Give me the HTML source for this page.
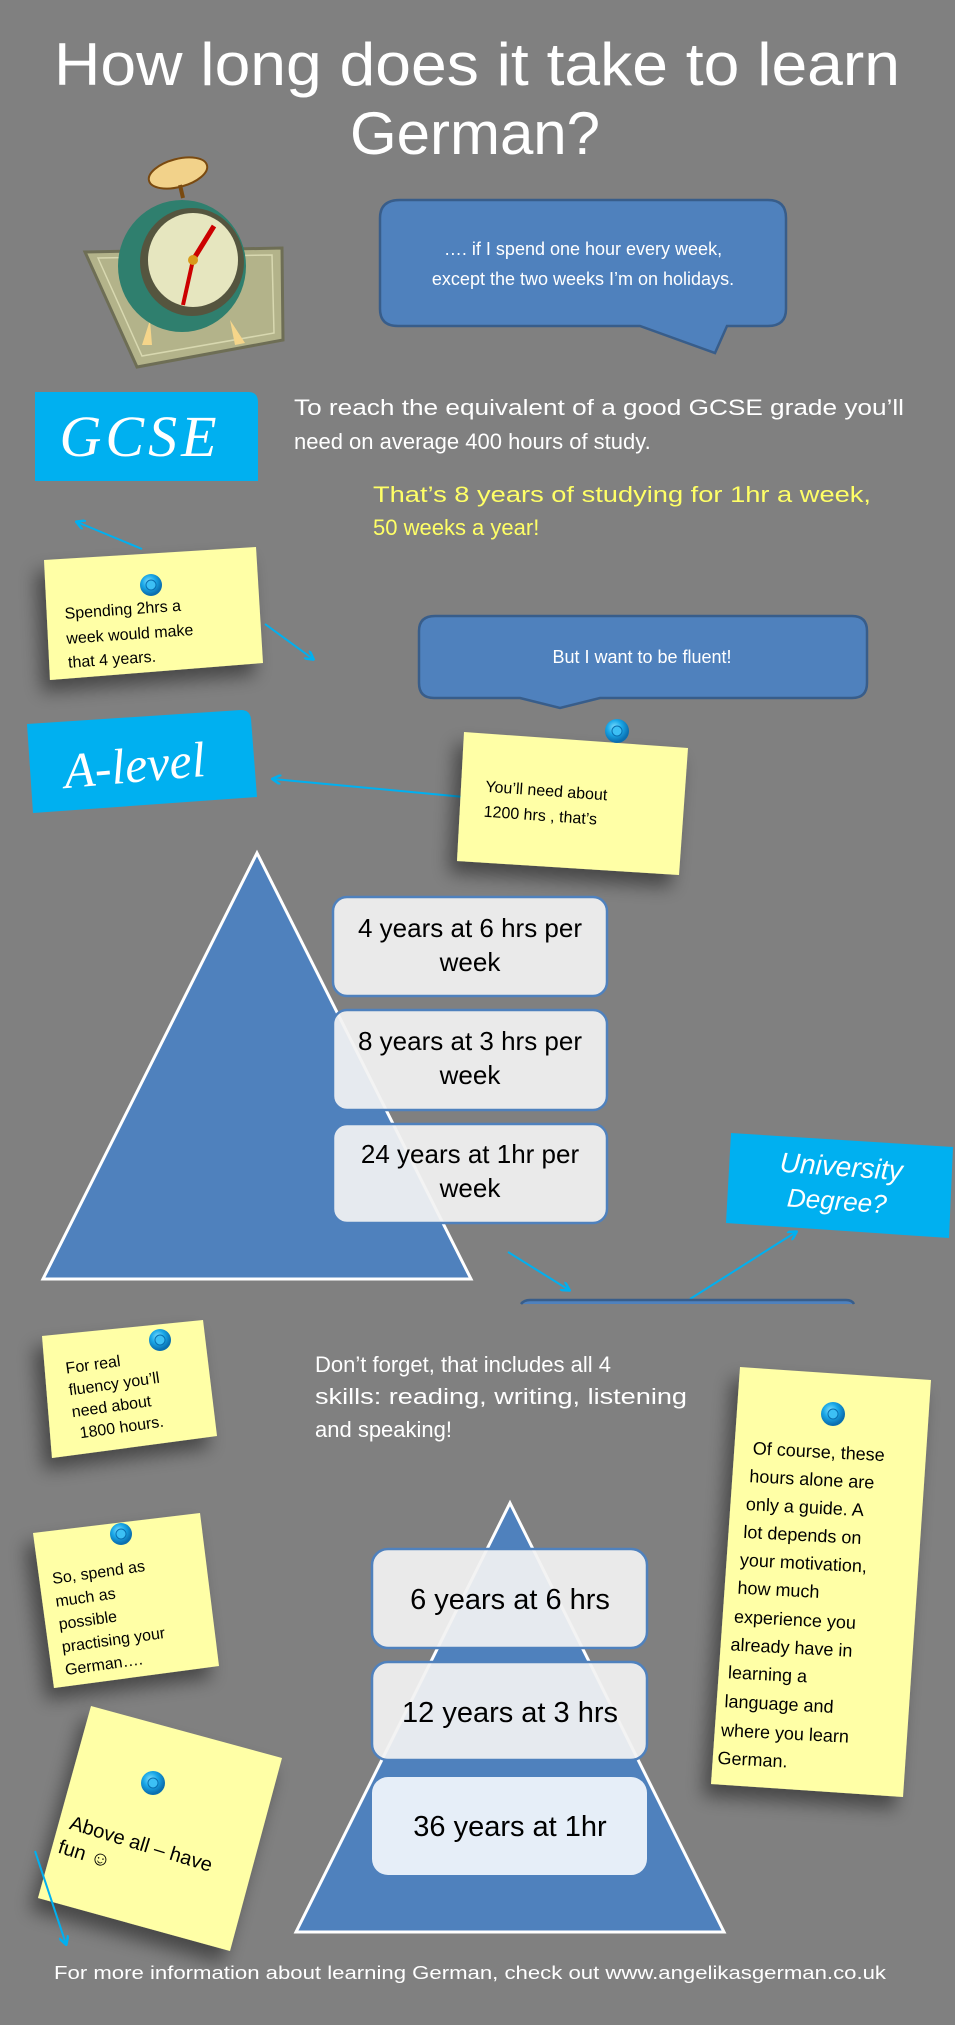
<!DOCTYPE html>
<html><head><meta charset="utf-8"><style>
html,body{margin:0;padding:0;background:#808080;}
svg{display:block;}
text{font-family:"Liberation Sans",sans-serif;}
.hw{font-family:"Liberation Serif",serif;font-style:italic;}
</style></head><body>
<svg width="955" height="2025" viewBox="0 0 955 2025" xmlns="http://www.w3.org/2000/svg">
<defs>
<filter id="sh" x="-30%" y="-30%" width="170%" height="170%"><feGaussianBlur in="SourceAlpha" stdDeviation="9"/><feOffset dx="-8" dy="12"/><feComponentTransfer><feFuncA type="linear" slope="0.45"/></feComponentTransfer><feMerge><feMergeNode/><feMergeNode in="SourceGraphic"/></feMerge></filter>
<radialGradient id="pin" cx="40%" cy="35%" r="60%"><stop offset="0" stop-color="#7fdfff"/><stop offset="0.5" stop-color="#1aa8e8"/><stop offset="1" stop-color="#0a6fb0"/></radialGradient>
<marker id="ah" markerWidth="10" markerHeight="10" refX="8" refY="5" orient="auto" markerUnits="userSpaceOnUse"><path d="M0,0 L9,5 L0,10" fill="none" stroke="#00b0f0" stroke-width="2.5"/></marker>
</defs>
<rect width="955" height="2025" fill="#808080"/>

<!-- Title -->
<text x="477" y="85" font-size="60" fill="#fff" text-anchor="middle" textLength="846" lengthAdjust="spacingAndGlyphs">How long does it take to learn</text>
<text x="475" y="154" font-size="60" fill="#fff" text-anchor="middle">German?</text>

<!-- Clock -->
<g>
<polygon points="85,252 282,248 283,340 137,367" fill="#b3b38a" stroke="#6e6e55" stroke-width="3"/>
<polygon points="98,258 272,255 274,333 142,356" fill="none" stroke="#d8d8b0" stroke-width="1.5"/>
<path d="M150,320 L142,345 L152,345 Z M230,320 L245,343 L235,345 Z" fill="#f5d58a"/>
<ellipse cx="182" cy="266" rx="64" ry="66" fill="#2f7f6e"/>
<ellipse cx="192" cy="262" rx="52" ry="54" fill="#55553f"/>
<ellipse cx="193" cy="260" rx="45" ry="47" fill="#e6e6bf"/>
<line x1="193" y1="260" x2="214" y2="226" stroke="#c00" stroke-width="5"/>
<line x1="193" y1="260" x2="183" y2="305" stroke="#c00" stroke-width="4"/>
<circle cx="193" cy="260" r="5" fill="#d99a1a"/>
<ellipse cx="178" cy="173" rx="30" ry="14" fill="#f2d28a" stroke="#7a4a10" stroke-width="2" transform="rotate(-15 178 173)"/>
<line x1="180" y1="185" x2="183" y2="198" stroke="#7a4a10" stroke-width="4"/>
</g>

<!-- Bubble 1 -->
<path d="M400,200 H768 Q786,200 786,218 V309 Q786,326 768,326 H727 L715,353 L640,326 H398 Q380,326 380,309 V218 Q380,200 400,200 Z" fill="#4f81bd" stroke="#385d8a" stroke-width="2.5"/>
<text x="583" y="255" font-size="18" fill="#fff" text-anchor="middle">…. if I spend one hour every week,</text>
<text x="583" y="285" font-size="18" fill="#fff" text-anchor="middle">except the two weeks I’m on holidays.</text>

<!-- GCSE -->
<path d="M35,392 H248 Q258,392 258,402 V481 H35 Z" fill="#00b0f0"/>
<text x="140" y="456" font-size="58" fill="#fff" text-anchor="middle" class="hw" letter-spacing="4">GCSE</text>

<text x="294" y="415" font-size="22" fill="#fff" textLength="610" lengthAdjust="spacingAndGlyphs">To reach the equivalent of a good GCSE grade you’ll</text>
<text x="294" y="449" font-size="22" fill="#fff">need on average 400 hours of study.</text>
<text x="373" y="502" font-size="22" fill="#ffff66" textLength="498" lengthAdjust="spacingAndGlyphs">That’s  8 years of studying for 1hr a week,</text>
<text x="373" y="535" font-size="22" fill="#ffff66">50 weeks a year!</text>

<!-- Note 1 -->
<g filter="url(#sh)"><polygon points="44,560 256,547 263,663 50,680" fill="#ffffa6"/></g>
<circle cx="151" cy="585" r="11" fill="url(#pin)"/><circle cx="151" cy="585" r="5" fill="#3cc0f5" stroke="#0a6fb0"/>
<g transform="rotate(-4 150 630)" font-size="16" fill="#000">
<text x="66" y="613">Spending 2hrs  a</text>
<text x="66" y="638">week would make</text>
<text x="66" y="662">that 4 years.</text>
</g>
<line x1="142" y1="549" x2="77" y2="522" stroke="#00b0f0" stroke-width="2" marker-end="url(#ah)"/>
<line x1="265" y1="624" x2="313" y2="659" stroke="#00b0f0" stroke-width="2" marker-end="url(#ah)"/>

<!-- Bubble 2 -->
<path d="M435,616 H852 Q867,616 867,631 V683 Q867,698 852,698 H600 L560,708 L520,698 H434 Q419,698 419,683 V631 Q419,616 435,616 Z" fill="#4f81bd" stroke="#385d8a" stroke-width="2.5"/>
<text x="642" y="663" font-size="18" fill="#fff" text-anchor="middle">But I want to be fluent!</text>

<!-- A-level -->
<path d="M27,724 L241,710 Q250,710 251,719 L257,797 L33,813 Z" fill="#00b0f0"/>
<text x="135" y="782" font-size="50" fill="#fff" text-anchor="middle" class="hw" transform="rotate(-5 135 770)">A-level</text>
<line x1="464" y1="797" x2="273" y2="779" stroke="#00b0f0" stroke-width="2" marker-end="url(#ah)"/>

<!-- Note 2 -->
<g filter="url(#sh)"><polygon points="464,732 688,748 679,875 457,861" fill="#ffffa6"/></g>
<circle cx="617" cy="731" r="12" fill="url(#pin)"/><circle cx="617" cy="731" r="5" fill="#3cc0f5" stroke="#0a6fb0"/>
<g transform="rotate(4 560 810)" font-size="16" fill="#000">
<text x="484" y="797">You’ll need about</text>
<text x="484" y="822">1200 hrs , that’s</text>
</g>

<!-- Triangle 1 -->
<polygon points="257,853 471,1279 43,1279" fill="#4f81bd" stroke="#fff" stroke-width="3"/>
<g font-size="26" fill="#000" text-anchor="middle">
<rect x="333" y="897" width="274" height="99" rx="14" fill="#f2f2f2" fill-opacity="0.93" stroke="#4f81bd" stroke-width="2.5"/>
<text x="470" y="937">4 years at 6 hrs per</text><text x="470" y="971">week</text>
<rect x="333" y="1010" width="274" height="100" rx="14" fill="#f2f2f2" fill-opacity="0.93" stroke="#4f81bd" stroke-width="2.5"/>
<text x="470" y="1050">8 years at 3 hrs per</text><text x="470" y="1084">week</text>
<rect x="333" y="1124" width="274" height="99" rx="14" fill="#f2f2f2" fill-opacity="0.93" stroke="#4f81bd" stroke-width="2.5"/>
<text x="470" y="1163">24 years at 1hr per</text><text x="470" y="1197">week</text>
</g>

<!-- University -->
<polygon points="731,1133 953,1147 949,1238 726,1223" fill="#00b0f0"/>
<g transform="rotate(4 840 1185)" fill="#fff" class="hw" text-anchor="middle">
<text x="840" y="1176" font-size="28">University</text>
<text x="838" y="1210" font-size="26">Degree?</text>
</g>
<line x1="508" y1="1252" x2="569" y2="1290" stroke="#00b0f0" stroke-width="2" marker-end="url(#ah)"/>
<line x1="690" y1="1299" x2="796" y2="1232" stroke="#00b0f0" stroke-width="2" marker-end="url(#ah)"/>
<path d="M521,1304 Q524,1300 530,1300 H846 Q852,1300 854,1304" fill="#4f81bd" stroke="#385d8a" stroke-width="2.5"/>

<!-- Note For real -->
<g filter="url(#sh)"><polygon points="42,1336 203,1320 217,1436 52,1458" fill="#ffffa6"/></g>
<circle cx="160" cy="1340" r="11" fill="url(#pin)"/><circle cx="160" cy="1340" r="5" fill="#3cc0f5" stroke="#0a6fb0"/>
<g transform="rotate(-8 130 1395)" font-size="16" fill="#000">
<text x="70" y="1365">For real</text>
<text x="70" y="1387">fluency you’ll</text>
<text x="70" y="1409">need about</text>
<text x="75" y="1431">1800 hours.</text>
</g>

<text x="315" y="1372" font-size="22" fill="#fff">Don’t forget, that includes all 4</text>
<text x="315" y="1404" font-size="22" fill="#fff" textLength="372" lengthAdjust="spacingAndGlyphs">skills: reading, writing, listening</text>
<text x="315" y="1437" font-size="22" fill="#fff">and speaking!</text>

<!-- Note So spend -->
<g filter="url(#sh)"><polygon points="33,1533 200,1513 219,1666 54,1688" fill="#ffffa6"/></g>
<circle cx="121" cy="1534" r="11" fill="url(#pin)"/><circle cx="121" cy="1534" r="5" fill="#3cc0f5" stroke="#0a6fb0"/>
<g transform="rotate(-8 120 1615)" font-size="16" fill="#000">
<text x="58" y="1575">So, spend as</text>
<text x="58" y="1598">much as</text>
<text x="58" y="1621">possible</text>
<text x="58" y="1644">practising your</text>
<text x="58" y="1667">German….</text>
</g>

<!-- Note Above all -->
<g filter="url(#sh)"><polygon points="91,1706 282,1758 230,1951 38,1898" fill="#ffffa6"/></g>
<circle cx="153" cy="1783" r="12" fill="url(#pin)"/><circle cx="153" cy="1783" r="5" fill="#3cc0f5" stroke="#0a6fb0"/>
<g transform="rotate(17 130 1860)" font-size="20" fill="#000">
<text x="62" y="1848">Above all – have</text>
<text x="58" y="1874">fun    ☺</text>
</g>
<line x1="35" y1="1851" x2="66" y2="1944" stroke="#00b0f0" stroke-width="2" marker-end="url(#ah)"/>

<!-- Triangle 2 -->
<polygon points="510,1503 724,1932 296,1932" fill="#4f81bd" stroke="#fff" stroke-width="3"/>
<g font-size="29" fill="#000" text-anchor="middle">
<rect x="372" y="1549" width="275" height="99" rx="16" fill="#f2f2f2" fill-opacity="0.93" stroke="#4f81bd" stroke-width="2.5"/>
<text x="510" y="1609">6 years at 6 hrs</text>
<rect x="372" y="1662" width="275" height="98" rx="16" fill="#f2f2f2" fill-opacity="0.93" stroke="#4f81bd" stroke-width="2.5"/>
<text x="510" y="1722">12 years at 3 hrs</text>
<rect x="372" y="1777" width="275" height="98" rx="16" fill="#eef3fb" fill-opacity="0.95"/>
<text x="510" y="1836">36 years at 1hr</text>
</g>

<!-- Right note -->
<g filter="url(#sh)"><polygon points="740,1367 931,1380 903,1797 711,1784" fill="#ffffa6"/></g>
<circle cx="833" cy="1414" r="12" fill="url(#pin)"/><circle cx="833" cy="1414" r="5" fill="#3cc0f5" stroke="#0a6fb0"/>
<g transform="rotate(3 820 1600)" font-size="18" fill="#000">
<text x="745" y="1458">Of course, these</text>
<text x="743" y="1486">hours alone are</text>
<text x="741" y="1514">only a guide. A</text>
<text x="740" y="1542">lot depends on</text>
<text x="738" y="1570">your motivation,</text>
<text x="737" y="1598">how much</text>
<text x="735" y="1627">experience you</text>
<text x="733" y="1655">already have in</text>
<text x="732" y="1683">learning a</text>
<text x="730" y="1712">language and</text>
<text x="728" y="1741">where you learn</text>
<text x="726" y="1769">German.</text>
</g>

<text x="54" y="1979" font-size="18" fill="#fff" textLength="832" lengthAdjust="spacingAndGlyphs">For more information about learning German, check out www.angelikasgerman.co.uk</text>
</svg>
</body></html>
